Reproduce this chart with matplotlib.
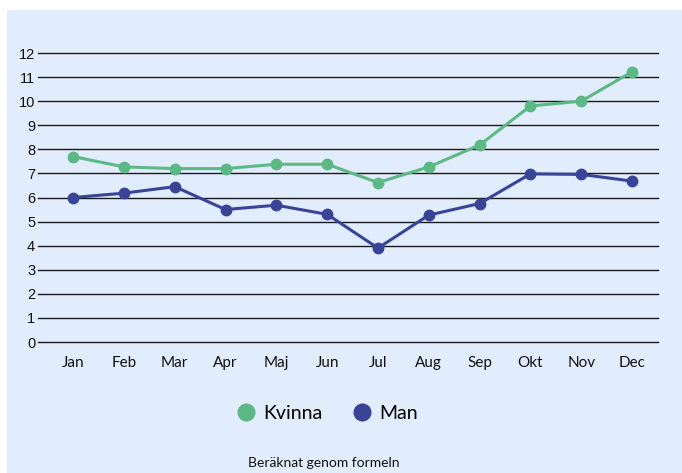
import matplotlib.pyplot as plt
from matplotlib.patches import Rectangle
from matplotlib.lines import Line2D

months = ["Jan", "Feb", "Mar", "Apr", "Maj", "Jun", "Jul", "Aug", "Sep", "Okt", "Nov", "Dec"]
kvinna = [7.7, 7.27, 7.2, 7.2, 7.38, 7.38, 6.62, 7.27, 8.18, 9.8, 10.0, 11.22]
man = [6.0, 6.18, 6.45, 5.5, 5.68, 5.3, 3.9, 5.27, 5.75, 6.98, 6.96, 6.68]
yticks = list(range(0, 13))

green = "#5cb885"
blue = "#3a4496"
bg = "#e1ecfd"

fig = plt.figure(figsize=(6.82, 4.73), dpi=100, facecolor="white")
fig.patches.append(Rectangle((7 / 682, 0), 1, 1 - 10 / 473, transform=fig.transFigure,
                             facecolor=bg, edgecolor="none", zorder=-5))

ax = fig.add_axes([38 / 682, 1 - 342 / 473, 620 / 682, 289 / 473])
ax.set_facecolor("none")

x = list(range(len(months)))
ax.plot(x, kvinna, color=green, lw=2.2, marker="o", ms=7.5, zorder=3)
ax.plot(x, man, color=blue, lw=2.2, marker="o", ms=7.5, zorder=3)

for v in yticks:
    ax.axhline(v, color="#1a1a1a", lw=1, zorder=1, clip_on=False)

ax.set_xlim(-0.69, 11.51)
ax.set_ylim(0, 12)
ax.set_yticks(yticks)
ax.set_xticks(x)
ax.set_xticklabels(months, fontfamily="Lato", fontsize=11)
ax.set_yticklabels([str(v) for v in yticks], fontfamily="Liberation Sans", fontsize=10.5)
ax.tick_params(axis="both", length=0, colors="#111111")
ax.tick_params(axis="y", pad=2)
ax.tick_params(axis="x", pad=10)
for s in ax.spines.values():
    s.set_visible(False)

handles = [Line2D([], [], color=green, marker="o", ls="none", ms=12),
           Line2D([], [], color=blue, marker="o", ls="none", ms=12)]
fig.legend(handles, ["Kvinna", "Man"], loc="center", bbox_to_anchor=(326 / 682, 1 - 413 / 473),
           ncol=2, frameon=False, prop={"family": "Lato", "size": 14},
           handletextpad=0.3, columnspacing=1.4, handlelength=1.2)

fig.text(324 / 682, 1 - 463 / 473, "Beräknat genom formeln", ha="center", va="center",
         fontfamily="Lato", fontsize=10, color="#111111")

fig.savefig("out.png", dpi=100, facecolor="white")
